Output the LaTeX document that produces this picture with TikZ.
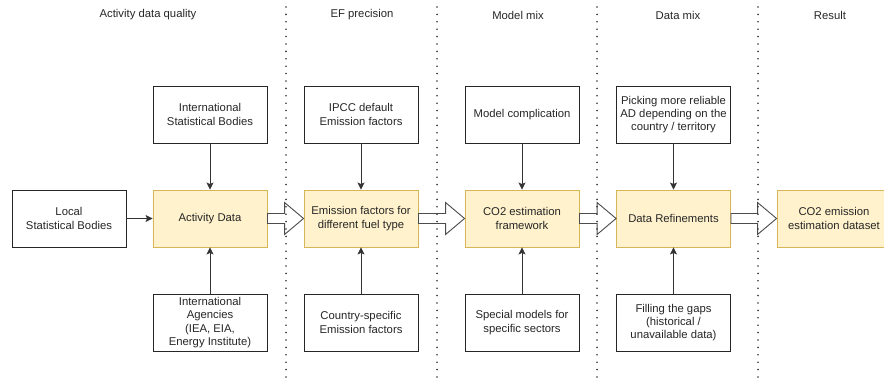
\documentclass[tikz,border=0pt]{standalone}
\usepackage{fontspec}
\setmainfont{Liberation Sans}
\usetikzlibrary{positioning}
\usetikzlibrary{calc}
\usetikzlibrary{arrows.meta}

\definecolor{adfill}{HTML}{FFF2CC}
\definecolor{adline}{HTML}{D6B656}

\begin{document}
\begin{tikzpicture}[x=1pt,y=-1pt,
  font=\fontsize{11.3}{13.3}\selectfont,
  srcbox/.style={draw=black!85,fill=white,line width=0.9pt,minimum width=114pt,minimum height=57pt,inner sep=0pt,align=center,text=black!85},
  mainbox/.style={srcbox,draw=adline,fill=adfill},
  feed/.style={draw=black!80,line width=0.9pt,-{Stealth[length=7pt,width=7pt,inset=1.5pt]}},
  blockarrow/.style={draw=black!70,fill=white,line width=0.9pt,line join=miter},
  sepline/.style={draw=black!80,line width=1.8pt,line cap=round,dash pattern=on 0pt off 7.4pt},
  lanehead/.style={text=black!85}]
 \useasboundingbox (0,0) rectangle (884,379);
 \clip (0,0) rectangle (884,379);

 \node[lanehead] (h1) at (148,15) {Activity data quality};
 \node[lanehead] (h2) at (362,15) {EF precision};
 \node[lanehead] (h3) at (518,15) {Model mix};
 \node[lanehead] (h4) at (678,15) {Data mix};
 \node[lanehead] (h5) at (830,15) {Result};

 \node[srcbox] (isb) at (210,114.5) {International\\Statistical Bodies};
 \node[mainbox] (ad) at (210,218.5) {Activity Data};
 \node[srcbox] (lsb) at (69,218.5) {Local\\Statistical Bodies};
 \node[srcbox] (ia) at (210,322.5) {International\\Agencies\\(IEA, EIA,\\Energy Institute)};

 \node[srcbox] (ipcc) at (361,114.5) {IPCC default\\Emission factors};
 \node[mainbox] (ef) at (361,218.5) {Emission factors for\\different fuel type};
 \node[srcbox] (csef) at (361,322.5) {Country-specific\\Emission factors};

 \node[srcbox] (mc) at (522,114.5) {Model complication};
 \node[mainbox] (co2) at (522,218.5) {CO2 estimation\\framework};
 \node[srcbox] (sm) at (522,322.5) {Special models for\\specific sectors};

 \node[srcbox] (pick) at (673.5,114.5) {Picking more reliable\\AD depending on the\\country / territory};
 \node[mainbox] (dr) at (673.5,218.5) {Data Refinements};
 \node[srcbox] (gaps) at (673.5,322.5) {Filling the gaps\\(historical /\\unavailable data)};

 \node[mainbox] (res) at (834,218.5) {CO2 emission\\estimation dataset};

 \draw[feed] (isb) -- (ad);
 \draw[feed] (ia) -- (ad);
 \draw[feed] (lsb) -- (ad);
 \draw[feed] (ipcc) -- (ef);
 \draw[feed] (csef) -- (ef);
 \draw[feed] (mc) -- (co2);
 \draw[feed] (sm) -- (co2);
 \draw[feed] (pick) -- (dr);
 \draw[feed] (gaps) -- (dr);

 \foreach \a/\b in {ad/ef,ef/co2,co2/dr,dr/res}
  \draw[blockarrow] (\b.west) -- ++(-19,-16) -- ++(0,11) -- ([yshift=5pt]\a.east)
   -- ([yshift=-5pt]\a.east) -- ($(\b.west)+(-19,5)$) -- ++(0,11) -- cycle;

 \foreach \x in {286,437,597,758}
  \draw[sepline] (\x,7) -- (\x,379);
\end{tikzpicture}
\end{document}
